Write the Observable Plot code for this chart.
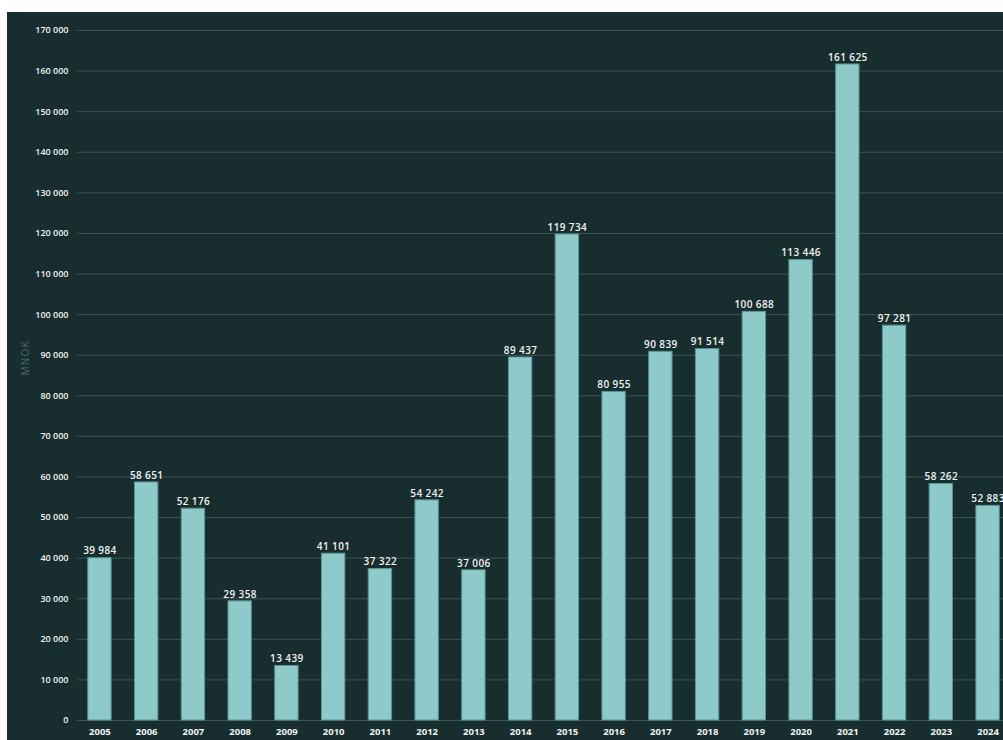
<!DOCTYPE html>
<html><head><meta charset="utf-8">
<script src="https://cdn.jsdelivr.net/npm/d3@7"></script>
<script src="https://cdn.jsdelivr.net/npm/@observablehq/plot@0.6"></script>
<style>
html,body{margin:0;padding:0;background:#fff;overflow:hidden;}
#wrap{position:absolute;left:7px;top:12px;width:996px;height:728px;background:#182e2e;overflow:hidden;}
#wrap svg{display:block;max-width:none !important;height:728px !important;}
.vlab{letter-spacing:0.4px;}
.unit{letter-spacing:1.2px;}
</style></head><body><div id="wrap"></div>
<script>
const years = ["2005","2006","2007","2008","2009","2010","2011","2012","2013","2014","2015","2016","2017","2018","2019","2020","2021","2022","2023","2024"];
const values = [39984,58651,52176,29358,13439,41101,37322,54242,37006,89437,119734,80955,90839,91514,100688,113446,161625,97281,58262,52883];
const yTicks = d3.range(0, 170001, 10000);

const fmt = d3.formatLocale({decimal:",", thousands:" ", grouping:[3], currency:["",""]}).format(",d");
const data = years.map((y,i)=>({year:y, value:values[i]}));

const chart = Plot.plot({
  width: 1010, height: 728,
  marginLeft: 70, marginRight: 7, marginTop: 18, marginBottom: 20,
  style: {background:"transparent", fontFamily:"'Open Sans', 'DejaVu Sans', sans-serif", fontSize:"9px", color:"#e8eeee", overflow:"visible"},
  x: {domain: years, paddingInner: 0.5, paddingOuter: 0.23, round: false, label: null},
  y: {domain: [0,170000], label: null},
  marks: [
    Plot.ruleY(yTicks, {stroke:"#3b5454", strokeWidth:1}),
    Plot.barY(data, {x:"year", y:"value", fill:"#8ecaca", stroke:"#5a9393", strokeWidth:1}),
    Plot.text(data, {x:"year", y:"value", text: d=>fmt(d.value), dy:-7, fill:"#eef3f3", fontWeight:600, fontSize:10, className:"vlab"}),
    Plot.axisX({tickSize:0, tickPadding:8, fontWeight:"bold", fill:"#eef3f3", fontSize:9.5, label:null}),
    Plot.axisY({ticks:yTicks, tickFormat:fmt, tickSize:0, tickPadding:9, fontWeight:600, fill:"#eef3f3", label:null}),
    Plot.text(["MNOK"], {frameAnchor:"left", dx:-52, rotate:-90, fill:"#4b6868", fontSize:10, className:"unit"})
  ]
});
document.getElementById("wrap").appendChild(chart);
</script></body></html>
